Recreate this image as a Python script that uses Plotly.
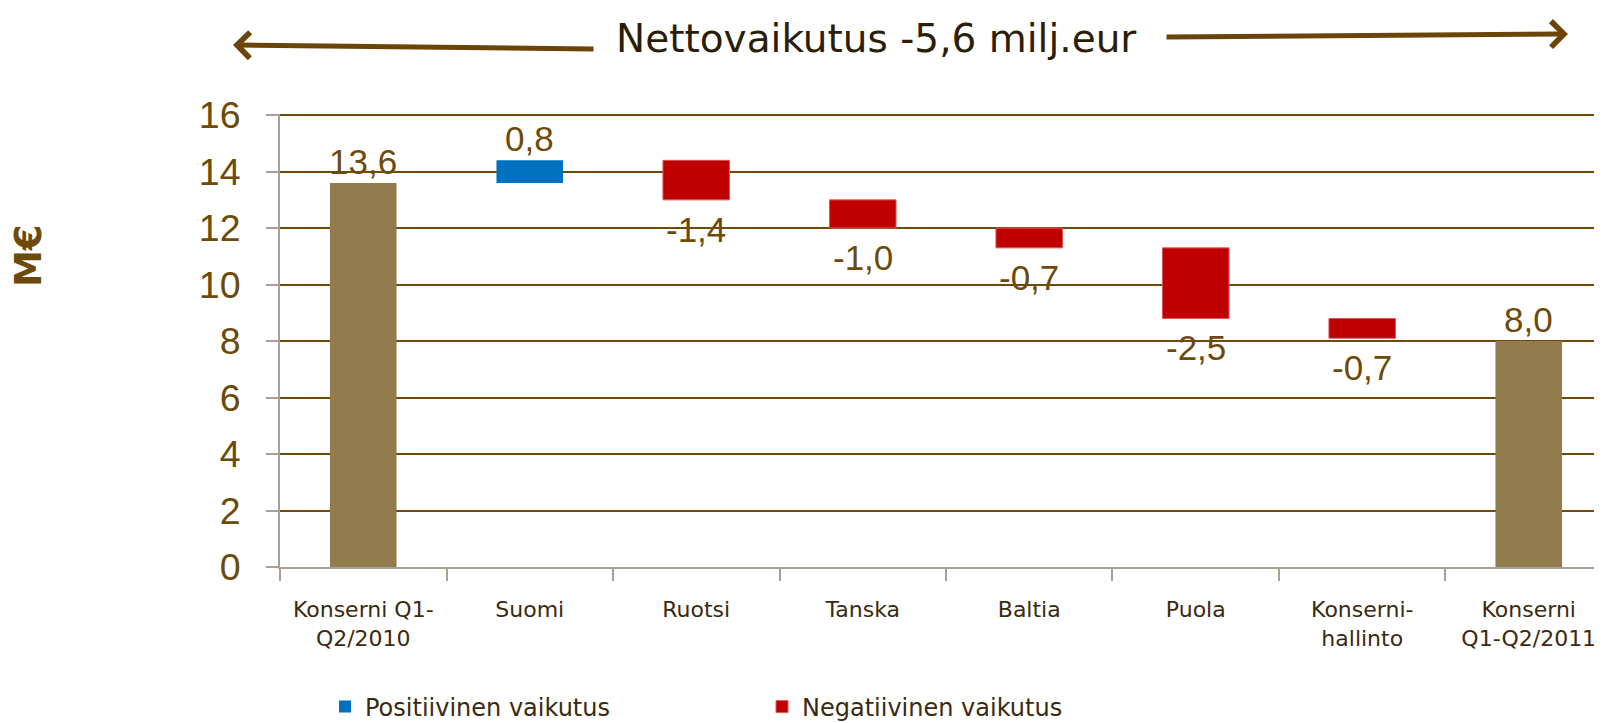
import plotly.graph_objects as go

# ---------------- data ----------------
categories = ["Konserni Q1-Q2/2010", "Suomi", "Ruotsi", "Tanska", "Baltia",
              "Puola", "Konserni-hallinto", "Konserni Q1-Q2/2011"]
tick_labels = ["Konserni Q1-<br>Q2/2010", "Suomi", "Ruotsi", "Tanska", "Baltia",
               "Puola", "Konserni-<br>hallinto", "Konserni<br>Q1-Q2/2011"]
start_value = 13.6
end_value = 8.0
change_categories = categories[1:-1]
changes = [0.8, -1.4, -1.0, -0.7, -2.5, -0.7]
y_ticks = [0, 2, 4, 6, 8, 10, 12, 14, 16]
title_text = "Nettovaikutus -5,6 milj.eur"
y_title = "M€"
legend_pos = "Positiivinen vaikutus"
legend_neg = "Negatiivinen vaikutus"

# ---------------- styles ----------------
TAN = "#927B4D"
BLUE = "#0070C0"
RED = "#C00000"
BROWN = "#6B4A0A"
DARK = "#3A2A10"
AXIS_GRAY = "#A89F95"
OFF = 8                       # default page body margin of the html page
W, H = 1602 - OFF, 723 - OFF
L, R, T, B = 280 - OFF, 0, 114 - OFF, 156
PW, PH = W - L - R, H - T - B


def fmt(v):
    return f"{v:.1f}".replace(".", ",")


def px_x(p):
    # page pixel -> paper fraction
    return (p - OFF - L) / PW


def px_y(p):
    return (H - B - (p - OFF)) / PH


# cumulative bases for the change bars
bases = []
level = start_value
for c in changes:
    bases.append(level)
    level += c

pos_x = [k for k, c in zip(change_categories, changes) if c >= 0]
pos_base = [b for b, c in zip(bases, changes) if c >= 0]
pos_y = [c for c in changes if c >= 0]
neg_x = [k for k, c in zip(change_categories, changes) if c < 0]
neg_base = [b for b, c in zip(bases, changes) if c < 0]
neg_y = [c for c in changes if c < 0]

fig = go.Figure()
fig.add_trace(go.Bar(x=[categories[0], categories[-1]], y=[start_value, end_value],
                     marker=dict(color=TAN, line=dict(width=0)), width=0.4,
                     showlegend=False, hoverinfo="skip"))
fig.add_trace(go.Bar(x=pos_x, y=pos_y, base=pos_base, name=legend_pos,
                     marker=dict(color=BLUE, line=dict(width=0)), width=0.4,
                     legend="legend"))
fig.add_trace(go.Bar(x=neg_x, y=neg_y, base=neg_base, name=legend_neg,
                     marker=dict(color=RED, line=dict(width=1, color="#E05858")),
                     width=0.4, legend="legend2"))

annotations = []
label_font = dict(family="Liberation Sans, Arial, sans-serif", size=35, color=BROWN)
# total labels
for cat, v in [(categories[0], start_value), (categories[-1], end_value)]:
    annotations.append(dict(x=cat, y=v, xref="x", yref="y", text=fmt(v),
                            showarrow=False, yanchor="bottom", font=label_font))
for cat, b, c in zip(change_categories, bases, changes):
    if c >= 0:
        annotations.append(dict(x=cat, y=b + c, xref="x", yref="y", text=fmt(c),
                                showarrow=False, yanchor="bottom", font=label_font))
    else:
        annotations.append(dict(x=cat, y=b + c, xref="x", yref="y", text=fmt(c),
                                showarrow=False, yanchor="top", yshift=-8,
                                font=label_font))

# title
annotations.append(dict(x=px_x(876), y=px_y(38), xref="paper", yref="paper",
                        text=title_text, showarrow=False, xanchor="center",
                        yanchor="middle",
                        font=dict(family="DejaVu Sans, sans-serif", size=39,
                                  color="#2A1E08")))
# arrows
annotations.append(dict(x=px_x(233), y=px_y(45), xref="paper", yref="paper",
                        ax=595 - 233, ay=49 - 45, text="", showarrow=True,
                        arrowhead=4, arrowsize=1.0, arrowwidth=5,
                        arrowcolor="#6B4508", standoff=0, startstandoff=0))
annotations.append(dict(x=px_x(1568), y=px_y(34), xref="paper", yref="paper",
                        ax=1165 - 1568, ay=37 - 34, text="", showarrow=True,
                        arrowhead=4, arrowsize=1.0, arrowwidth=5,
                        arrowcolor="#6B4508", standoff=0, startstandoff=0))
# y-axis title
annotations.append(dict(x=px_x(28), y=px_y(256), xref="paper", yref="paper",
                        text=y_title, showarrow=False, textangle=-90,
                        xanchor="center", yanchor="middle",
                        font=dict(family="DejaVu Sans, sans-serif", size=37,
                                  color=BROWN, weight="bold")))

legend_font = dict(family="DejaVu Sans, sans-serif", size=24, color=DARK)

fig.update_layout(
    width=W, height=H,
    margin=dict(l=L, r=R, t=T, b=B, pad=0, autoexpand=False),
    paper_bgcolor="white", plot_bgcolor="white",
    barmode="overlay",
    annotations=annotations,
    legend=dict(x=px_x(325), y=px_y(707), xanchor="left", yanchor="middle",
                orientation="h", font=legend_font, bgcolor="rgba(0,0,0,0)",
                itemclick=False),
    legend2=dict(x=px_x(762), y=px_y(707), xanchor="left", yanchor="middle",
                 orientation="h", font=legend_font, bgcolor="rgba(0,0,0,0)",
                 itemclick=False),
    xaxis=dict(
        type="category", categoryorder="array", categoryarray=categories,
        tickmode="array", tickvals=categories, ticktext=tick_labels,
        range=[-0.5, 7.44], showgrid=False, zeroline=False, automargin=False,
        showline=True, linecolor=AXIS_GRAY, linewidth=2,
        ticks="outside", tickson="boundaries", ticklen=12, tickwidth=2,
        tickcolor=AXIS_GRAY, ticklabelstandoff=22,
        tickfont=dict(family="DejaVu Sans, sans-serif", size=22, color=DARK),
    ),
    yaxis=dict(
        range=[0, 16.04], tickmode="array", tickvals=y_ticks, automargin=False,
        showgrid=True, gridcolor=BROWN, gridwidth=2, zeroline=False,
        showline=True, linecolor=AXIS_GRAY, linewidth=2,
        ticks="outside", ticklen=12, tickwidth=2, tickcolor=AXIS_GRAY,
        ticklabelstandoff=18,
        tickfont=dict(family="Liberation Sans, Arial, sans-serif", size=37.5,
                      color=BROWN),
    ),
)

fig.write_html("out.html")
